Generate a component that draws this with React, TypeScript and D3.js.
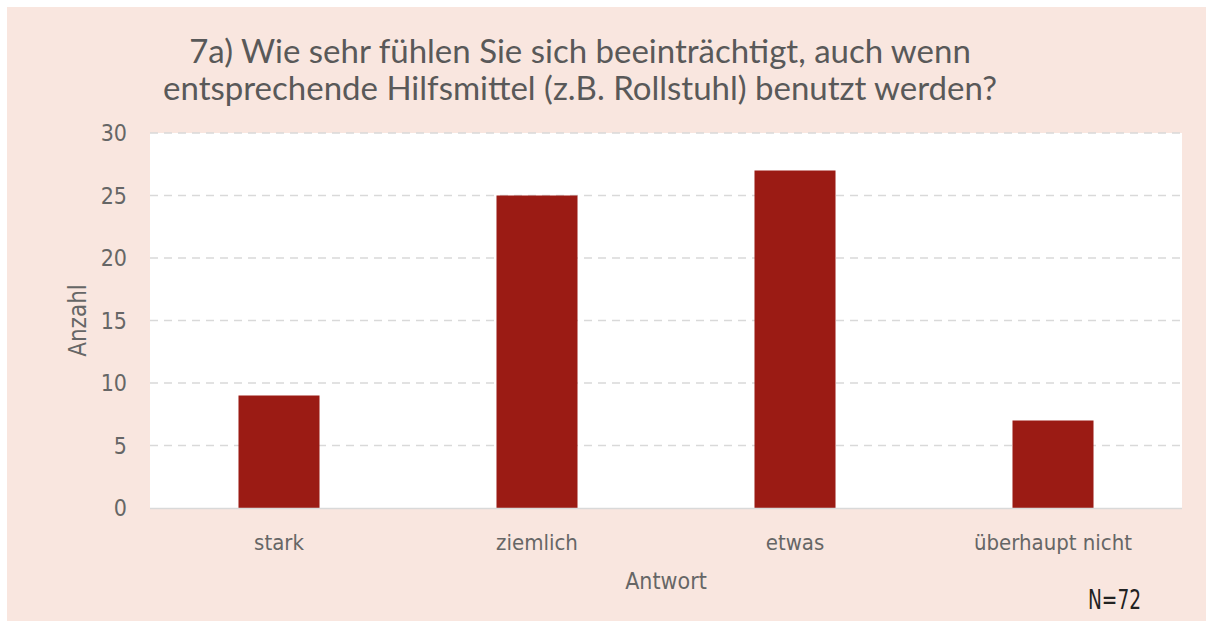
import React from "react";
import * as d3 from "d3";

const categories = ["stark", "ziemlich", "etwas", "überhaupt nicht"];
const values = [9, 25, 27, 7];
const yTicks = [0, 5, 10, 15, 20, 25, 30];
const titleLines = [
  "7a) Wie sehr fühlen Sie sich beeinträchtigt, auch wenn",
  "entsprechende Hilfsmittel (z.B. Rollstuhl) benutzt werden?",
];
const yLabel = "Anzahl";
const xLabel = "Antwort";
const note = "N=72";

const W = 1206;
const H = 621;
const plot = { left: 150, right: 1182, top: 133, bottom: 508 };
const narrow = "'Liberation Sans Narrow', 'DejaVu Sans Condensed', 'Arial Narrow', sans-serif";
const titleFont = "Lato, 'Open Sans', sans-serif";

export default function App() {
  const x = d3
    .scaleBand<string>()
    .domain(categories)
    .range([plot.left, plot.right])
    .paddingInner(0.686)
    .paddingOuter(0.343);
  const y = d3.scaleLinear().domain([0, 30]).range([plot.bottom, plot.top]);

  return (
    <svg
      width={W}
      height={H}
      style={{ position: "absolute", left: 0, top: 0 }}
    >
      <rect x={0} y={0} width={W} height={H} fill="#ffffff" />
      <rect x={7} y={7} width={W - 7} height={H - 7} fill="#f9e6df" />
      <rect
        x={plot.left}
        y={plot.top}
        width={plot.right - plot.left}
        height={plot.bottom - plot.top}
        fill="#ffffff"
      />
      {yTicks.map((t) => (
        <g key={t}>
          {t > 0 && (
            <line
              x1={plot.left}
              x2={plot.right}
              y1={y(t)}
              y2={y(t)}
              stroke="#d9d9d9"
              strokeWidth={1.3}
              strokeDasharray="8 6"
            />
          )}
          <text
            x={127}
            y={y(t)}
            dy="0.36em"
            textAnchor="end"
            fontFamily={narrow}
            fontSize={23}
            fill="#666666"
          >
            {t}
          </text>
        </g>
      ))}
      {categories.map((c, i) => (
        <rect
          key={c}
          x={x(c)}
          y={y(values[i])}
          width={x.bandwidth()}
          height={y(0) - y(values[i])}
          fill="#9b1b14"
        />
      ))}
      <line
        x1={plot.left}
        x2={plot.right}
        y1={y(0) + 0.5}
        y2={y(0) + 0.5}
        stroke="#d9d9d9"
        strokeWidth={1.5}
      />
      {categories.map((c) => (
        <text
          key={c}
          x={(x(c) as number) + x.bandwidth() / 2}
          y={550}
          textAnchor="middle"
          fontFamily={narrow}
          fontSize={22}
          fill="#666666"
        >
          {c}
        </text>
      ))}
      <text
        x={666}
        y={589}
        textAnchor="middle"
        fontFamily={narrow}
        fontSize={23}
        fill="#666666"
      >
        {xLabel}
      </text>
      <text
        transform={`translate(86, ${(plot.top + plot.bottom) / 2}) rotate(-90)`}
        textAnchor="middle"
        fontFamily={narrow}
        fontSize={24}
        fill="#666666"
      >
        {yLabel}
      </text>
      <text
        x={1088}
        y={609}
        fontFamily={narrow}
        fontSize={27}
        textLength={53}
        lengthAdjust="spacingAndGlyphs"
        fill="#222222"
      >
        {note}
      </text>
      {titleLines.map((l, i) => (
        <text
          key={i}
          x={580}
          y={63 + i * 37}
          textAnchor="middle"
          fontFamily={titleFont}
          fontSize={33}
          fill="#595959"
        >
          {l}
        </text>
      ))}
    </svg>
  );
}
